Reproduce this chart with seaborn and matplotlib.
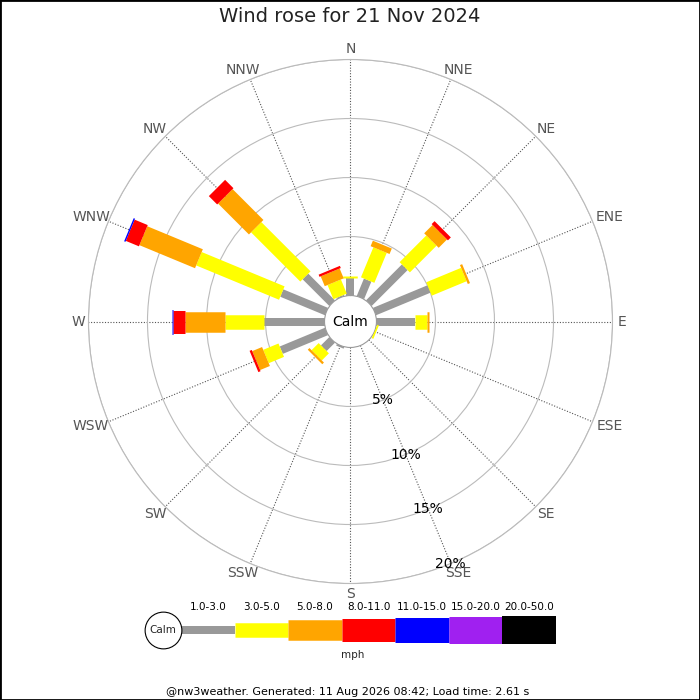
import numpy as np
import matplotlib
matplotlib.use("Agg")
import matplotlib.pyplot as plt
import seaborn as sns
from matplotlib.patches import Rectangle

# --- Data (percent of time per direction, per speed band) ---
DIRS = ["N", "NNE", "NE", "ENE", "E", "ESE", "SE", "SSE",
        "S", "SSW", "SW", "WSW", "W", "WNW", "NW", "NNW"]
BINS = ["1.0-3.0", "3.0-5.0", "5.0-8.0", "8.0-11.0", "11.0-15.0", "15.0-20.0", "20.0-50.0"]
COLORS = ["#999999", "#ffff00", "#ffa500", "#ff0000", "#0000ff", "#a020f0", "#000000"]
WIDTHS_PX = [8, 14.5, 20.5, 23, 25, 27, 28]

spd_1_3 = [1.45, 1.6, 4.3, 5.0, 3.3, 0.0, 0, 0, 0, 0.15, 1.0, 4.15, 5.1, 4.1, 3.2, 0.1]
spd_3_5 = [0.2, 2.75, 3.2, 3.2, 1.0, 0.15, 0, 0, 0, 0, 0.85, 1.4, 3.33, 7.6, 5.9, 1.3]
spd_5_8 = [0, 0.5, 1.0, 0.2, 0.12, 0, 0, 0, 0, 0, 0.2, 0.9, 3.39, 5.1, 3.7, 0.9]
spd_8_11 = [0, 0, 0.35, 0, 0, 0, 0, 0, 0, 0, 0, 0.2, 0.98, 1.2, 1.0, 0.2]
spd_11_15 = [0, 0, 0, 0, 0, 0, 0, 0, 0, 0, 0, 0, 0.12, 0.12, 0, 0]
spd_15_20 = [0] * 16
spd_20_50 = [0] * 16

RINGS = [5, 10, 15, 20]
TITLE = "Wind rose for 21 Nov 2024"
FOOTER = "@nw3weather. Generated: 11 Aug 2026 08:42; Load time: 2.61 s"

# --- Style ---
sns.set_theme(style="white")
plt.rcParams["font.family"] = ["DejaVu Sans"]

PX2PT = 0.72
series = np.array([spd_1_3, spd_3_5, spd_5_8, spd_8_11, spd_11_15, spd_15_20, spd_20_50])
theta = np.deg2rad(np.arange(len(DIRS)) * 360 / len(DIRS))

fig = plt.figure(figsize=(7, 7), dpi=100)
fig.patch.set_facecolor("white")

ax = fig.add_axes([0.1264, 0.1664, 0.7486, 0.7486], projection="polar")
ax.set_theta_zero_location("N")
ax.set_theta_direction(-1)

# stacked speed bands as radial strokes of fixed pixel width
bottoms = np.zeros(len(DIRS))
for vals, col, w in zip(series, COLORS, WIDTHS_PX):
    tops = bottoms + vals
    m = vals > 0
    if m.any():
        ax.vlines(theta[m], bottoms[m], tops[m], colors=col,
                  linewidth=w * PX2PT, capstyle="butt", zorder=3)
    bottoms = tops

ax.set_ylim(0, 20)
ax.set_rorigin(-2.2)
ax.set_xticks(theta)
ax.set_xticklabels([])
ax.set_yticks(RINGS)
ax.set_yticklabels([])
ax.set_axisbelow(True)
ax.xaxis.grid(True, linestyle=(0, (1, 1.5)), color="#555555", linewidth=0.8)
ax.yaxis.grid(True, linestyle="-", color="#bbbbbb", linewidth=0.8)
ax.spines["polar"].set_color("#bbbbbb")
ax.spines["polar"].set_linewidth(0.8)
ax.spines["inner"].set_color("#999999")
ax.spines["inner"].set_linewidth(0.8)
ax.set_facecolor("white")

# compass labels pushed outward so the box edge sits on the label circle
for t, d in zip(theta, DIRS):
    dx = 4.5 * len(d) * np.sin(t) * PX2PT
    dy = 5.0 * np.cos(t) * PX2PT
    ax.annotate(d, xy=(t, 20.45), xytext=(dx, dy), textcoords="offset points",
                ha="center", va="center", fontsize=10, color="#555555", annotation_clip=False)
for r in RINGS:
    ax.text(np.deg2rad(157.5), r, f"{r}%", ha="center", va="center", fontsize=10, color="black", zorder=4)
ax.text(0.5, 0.5, "Calm", transform=ax.transAxes, ha="center", va="center", fontsize=10, color="black")

# --- Legend strip ---
lax = fig.add_axes([0.1973, 0.05, 0.597, 0.1])
lax.set_xlim(-0.8, 7)
lax.set_ylim(-1, 1)
lax.axis("off")
for i, (lab, col, w) in enumerate(zip(BINS, COLORS, WIDTHS_PX)):
    lax.hlines(0, i, i + 1, colors=col, linewidth=w * PX2PT, capstyle="butt")
    lax.text(i + 0.5, 0.65, lab, ha="center", va="center", fontsize=7.5, color="black")
lax.scatter([-0.336], [0], s=700, facecolor="white", edgecolor="black", linewidth=0.8, zorder=3)
lax.text(-0.336, 0, "Calm", ha="center", va="center", fontsize=7.5, zorder=4)
lax.text(3.2, -0.7, "mph", ha="center", va="center", fontsize=7.5)

fig.text(0.5, 1 - 17 / 700, TITLE, ha="center", va="center", fontsize=14, color="#222222")
fig.text(0.497, 1 - 692 / 700, FOOTER, ha="center", va="center", fontsize=8, color="black")
fig.patches.append(Rectangle((0, 0), 1, 1, transform=fig.transFigure, fill=False,
                             edgecolor="black", linewidth=2))

fig.savefig("out.png", dpi=100, facecolor="white")
